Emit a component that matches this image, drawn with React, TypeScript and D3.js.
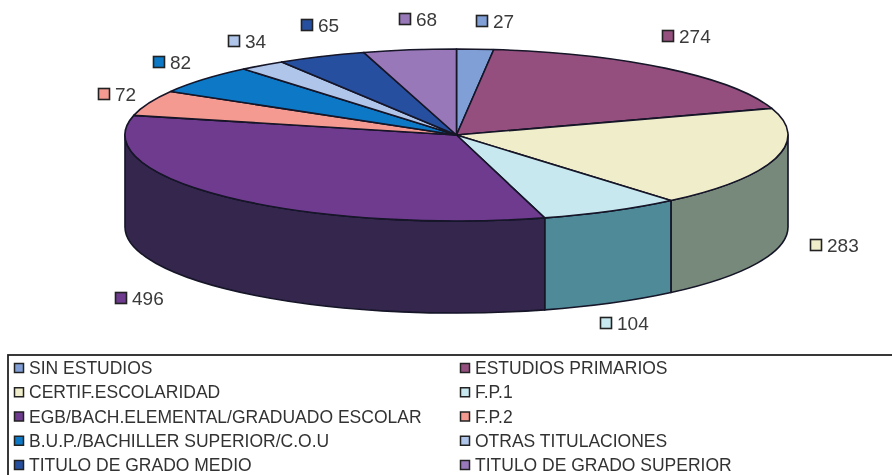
import React from "react";
import * as d3 from "d3";

const categories = [
  "SIN ESTUDIOS", "ESTUDIOS PRIMARIOS", "CERTIF.ESCOLARIDAD", "F.P.1",
  "EGB/BACH.ELEMENTAL/GRADUADO ESCOLAR", "F.P.2", "B.U.P./BACHILLER SUPERIOR/C.O.U",
  "OTRAS TITULACIONES", "TITULO DE GRADO MEDIO", "TITULO DE GRADO SUPERIOR",
];
const values = [27, 274, 283, 104, 496, 72, 82, 34, 65, 68];
const topColors = ["#7f9fd6", "#95507f", "#f0edcb", "#c8e8ef", "#6e3b8e", "#f59a90", "#0b78c6", "#b0c5ea", "#27509f", "#9878b9"];
const wallColors = ["#4f6a8f", "#633555", "#76897a", "#4f8a98", "#36284e", "#a3665f", "#074f84", "#75839c", "#1a356a", "#65507b"];

const W = 892, H = 475;
const CX = 456.5, CY = 135, RX = 331.5, RY = 86, DEPTH = 92;
const labelAnchors: [number, number][] = [
  [482, 21], [668, 36], [816, 245], [606, 323], [121, 298],
  [104, 94], [159, 62], [234, 41], [307, 25], [405, 19],
];

const pt = (a: number, dy = 0): [number, number] => [CX + RX * Math.sin(a), CY - RY * Math.cos(a) + dy];
const arcTo = (a: number, large: number, sweep: number, dy = 0) => {
  const [x, y] = pt(a, dy);
  return `A${RX},${RY} 0 ${large} ${sweep} ${x},${y}`;
};

export default function App() {
  const arcs = d3.pie<number>().sort(null)(values);
  const stroke = "#141428";
  const legendRows = d3.range(5);
  const legendY = d3.scaleLinear().domain([0, 4]).range([368, 465]);
  return (
    <svg width={W} height={H} viewBox={`0 0 ${W} ${H}`} style={{ position: "absolute", left: 0, top: 0, background: "#fff" }}>
      <defs>
        <filter id="soft" x="-5%" y="-5%" width="110%" height="110%">
          <feGaussianBlur stdDeviation="0.5" />
        </filter>
      </defs>
      <g filter="url(#soft)">
        {arcs.map((d, i) => {
          const a0 = Math.max(d.startAngle, Math.PI / 2);
          const a1 = Math.min(d.endAngle, (3 * Math.PI) / 2);
          if (a1 <= a0) return null;
          const [x0, y0] = pt(a0);
          const [x1, y1] = pt(a1, DEPTH);
          const large = a1 - a0 > Math.PI ? 1 : 0;
          return (
            <path key={i} fill={wallColors[i]} stroke={stroke} strokeWidth={1.6} strokeLinejoin="round"
              d={`M${x0},${y0}${arcTo(a1, large, 1)}L${x1},${y1}${arcTo(a0, large, 0, DEPTH)}Z`} />
          );
        })}
        {arcs.map((d, i) => {
          const [x0, y0] = pt(d.startAngle);
          const large = d.endAngle - d.startAngle > Math.PI ? 1 : 0;
          return (
            <path key={i} fill={topColors[i]} stroke={stroke} strokeWidth={1.6} strokeLinejoin="round"
              d={`M${CX},${CY}L${x0},${y0}${arcTo(d.endAngle, large, 1)}Z`} />
          );
        })}
        {values.map((v, i) => {
          const [x, y] = labelAnchors[i];
          return (
            <g key={i}>
              <rect x={x - 5.5} y={y - 5.5} width={11} height={11} fill={topColors[i]} stroke="#222" strokeWidth={1.6} />
              <text x={x + 11} y={y + 7} fontFamily="'Liberation Sans', Arial, sans-serif" fontSize={19} fill="#3a3a3a">{v}</text>
            </g>
          );
        })}
        <rect x={8} y={355} width={H * 2} height={140} fill="#fff" stroke="#222" strokeWidth={1.8} />
        {categories.map((c, i) => {
          const col = i % 2;
          const row = Math.floor(i / 2);
          const y = legendY(legendRows[row]);
          const x = col === 0 ? 19 : 465;
          return (
            <g key={c}>
              <rect x={x - 4.5} y={y - 4.5} width={9} height={9} fill={topColors[i]} stroke="#222" strokeWidth={1.5} />
              <text x={x + 10} y={y + 6} fontFamily="'Liberation Sans', Arial, sans-serif" fontSize={17.5} fill="#333">{c}</text>
            </g>
          );
        })}
      </g>
    </svg>
  );
}
